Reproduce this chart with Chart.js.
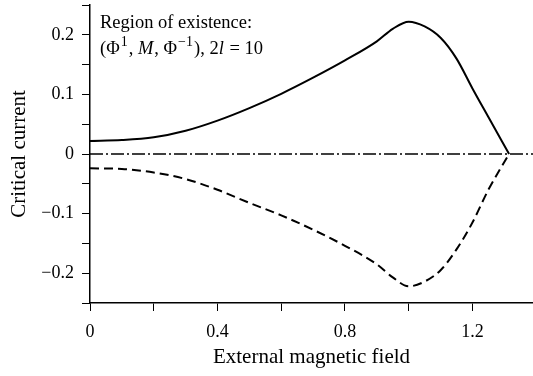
<!DOCTYPE html>
<html>
<head>
<meta charset="utf-8">
<script src="https://cdn.jsdelivr.net/npm/chart.js@4"></script>
<style>
  html, body { margin: 0; padding: 0; background: #fff; }
</style>
</head>
<body>
<canvas id="chart" width="533" height="376"></canvas>
<script>
// Data
const fieldValues = [0, 0.1, 0.2, 0.3, 0.4, 0.5, 0.6, 0.7, 0.8, 0.9, 0.95, 1.0, 1.05, 1.1, 1.15, 1.2, 1.25, 1.315];
const upperCurrent = [0.022, 0.0235, 0.028, 0.039, 0.056, 0.077, 0.101, 0.128, 0.157, 0.189, 0.21, 0.222, 0.214, 0.195, 0.16, 0.11, 0.062, 0];
const lowerCurrent = [-0.024, -0.025, -0.031, -0.042, -0.06, -0.082, -0.103, -0.127, -0.154, -0.185, -0.207, -0.222, -0.214, -0.195, -0.16, -0.115, -0.06, 0];
const zeroLineX = [0, 1.39];
const xLabelTicks = [0, 0.4, 0.8, 1.2];
const yLabelTicks = [-0.2, -0.1, 0, 0.1, 0.2];

const serif = "'Liberation Serif', 'Times New Roman', serif";

function toPoints(xs, ys) {
  return xs.map((x, i) => ({ x: x, y: ys[i] }));
}

function isLabelled(v, list) {
  return list.some(t => Math.abs(t - v) < 1e-6);
}

function fmt(v) {
  if (Math.abs(v) < 1e-9) return "0";
  return v.toFixed(1).replace("-", "\u2212");
}

// annotation text in the top left corner
const notePlugin = {
  id: "note",
  afterDraw(chart) {
    const ctx = chart.ctx;
    const x0 = chart.chartArea.left + 10;
    ctx.save();
    ctx.fillStyle = "#000";
    ctx.textBaseline = "alphabetic";
    ctx.font = "18.5px " + serif;
    ctx.fillText("Region of existence:", x0, 28);

    const parts = [
      ["(\u03A6", "normal"],
      ["1", "sup"],
      [", ", "normal"],
      ["M", "italic"],
      [", \u03A6", "normal"],
      ["\u22121", "sup"],
      ["), 2", "normal"],
      ["l", "italic"],
      [" = 10", "normal"]
    ];
    let x = x0;
    const base = 54;
    parts.forEach(p => {
      if (p[1] === "sup") {
        ctx.font = "14px " + serif;
        ctx.fillText(p[0], x + 1, base - 8);
        x += 2;
      } else if (p[1] === "italic") {
        ctx.font = "italic 18.5px " + serif;
        ctx.fillText(p[0], x, base);
        x += 1;
      } else {
        ctx.font = "18.5px " + serif;
        ctx.fillText(p[0], x, base);
      }
      x += ctx.measureText(p[0]).width;
    });
    ctx.restore();
  }
};

new Chart(document.getElementById("chart"), {
  type: "line",
  data: {
    datasets: [
      {
        label: "zero",
        data: toPoints(zeroLineX, [0, 0]),
        borderColor: "#000",
        borderWidth: 1.4,
        borderDash: [13, 3, 2, 3],
        pointRadius: 0
      },
      {
        label: "upper",
        data: toPoints(fieldValues, upperCurrent),
        borderColor: "#000",
        borderWidth: 2,
        cubicInterpolationMode: "monotone",
        pointRadius: 0
      },
      {
        label: "lower",
        data: toPoints(fieldValues, lowerCurrent),
        borderColor: "#000",
        borderWidth: 2,
        borderDash: [9, 5],
        cubicInterpolationMode: "monotone",
        pointRadius: 0
      }
    ]
  },
  options: {
    responsive: false,
    animation: false,
    layout: { padding: { top: 5, right: 0, left: 0, bottom: 0 } },
    plugins: {
      legend: { display: false },
      tooltip: { enabled: false }
    },
    scales: {
      x: {
        type: "linear",
        min: 0,
        max: 1.39,
        afterFit: (scale) => {
          scale.height = 73;
          scale.paddingLeft = 0;
          scale.paddingRight = 0;
        },
        border: { display: true, color: "#000", width: 1.5 },
        grid: { drawOnChartArea: false, tickLength: 8, color: "#000" },
        ticks: {
          stepSize: 0.2,
          includeBounds: false,
          maxRotation: 0,
          autoSkip: false,
          padding: 10,
          color: "#000",
          font: { family: serif, size: 18 },
          callback: (v) => isLabelled(v, xLabelTicks) ? fmt(v) : ""
        },
        title: {
          display: true,
          text: "External magnetic field",
          color: "#000",
          font: { family: serif, size: 21 },
          padding: { top: 0, bottom: 6 }
        }
      },
      y: {
        min: -0.25,
        max: 0.25,
        afterFit: (scale) => {
          scale.width = 90;
          scale.paddingTop = 0;
          scale.paddingBottom = 0;
        },
        border: { display: true, color: "#000", width: 1.5 },
        grid: { drawOnChartArea: false, tickLength: 8, color: "#000" },
        ticks: {
          stepSize: 0.05,
          autoSkip: false,
          padding: 8,
          color: "#000",
          font: { family: serif, size: 18 },
          callback: (v) => isLabelled(v, yLabelTicks) ? fmt(v) : ""
        },
        title: {
          display: true,
          text: "Critical current",
          color: "#000",
          font: { family: serif, size: 21 },
          padding: { top: 7, bottom: 0 }
        }
      }
    }
  },
  plugins: [notePlugin]
});
</script>
</body>
</html>
